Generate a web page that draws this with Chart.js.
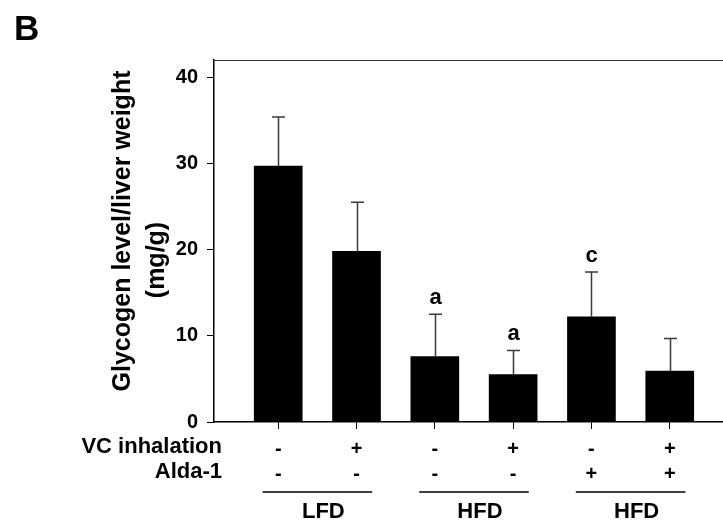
<!DOCTYPE html>
<html>
<head>
<meta charset="utf-8">
<script src="https://cdn.jsdelivr.net/npm/chart.js@4.4.0/dist/chart.umd.min.js"></script>
<style>
  html, body { margin: 0; padding: 0; background: #fff; }
  #wrap { width: 723px; height: 531px; }
</style>
</head>
<body>
<div id="wrap"><canvas id="chart" width="723" height="531"></canvas></div>
<script>
// groups in plotting order
const categories = ['LFD', 'LFD + VC', 'HFD', 'HFD + VC', 'HFD + Alda-1', 'HFD + VC + Alda-1'];
const glycogen = [29.7, 19.8, 7.6, 5.5, 12.2, 5.9];
const glycogenErr = [5.7, 5.7, 4.9, 2.8, 5.2, 3.8];
const sigLetters = ['', '', 'a', 'a', 'c', ''];
const vcInhalation = ['-', '+', '-', '+', '-', '+'];
const alda1 = ['-', '-', '-', '-', '+', '+'];
const groupLabels = ['LFD', 'HFD', 'HFD'];
const groupFirst = [0, 2, 4];
const yTicks = [0, 10, 20, 30, 40];

const FONT = "'Liberation Sans', Arial, Helvetica, sans-serif";

const overlay = {
    id: 'overlay',
    afterDatasetsDraw(chart) {
        const { ctx, chartArea, scales } = chart;
        const x = scales.x, y = scales.y;
        ctx.save();

        // top frame line
        ctx.strokeStyle = '#333';
        ctx.lineWidth = 1;
        ctx.beginPath();
        ctx.moveTo(chartArea.left, chartArea.top + 0.5);
        ctx.lineTo(chartArea.right, chartArea.top + 0.5);
        ctx.stroke();

        // upper error bars + letters
        ctx.strokeStyle = '#3a3a3a';
        ctx.lineWidth = 1.5;
        ctx.fillStyle = '#000';
        ctx.font = 'bold 22px ' + FONT;
        ctx.textAlign = 'center';
        ctx.textBaseline = 'alphabetic';
        glycogen.forEach((v, i) => {
            const px = Math.round(x.getPixelForValue(i)) + 0.5;
            const y0 = y.getPixelForValue(v);
            const y1 = y.getPixelForValue(v + glycogenErr[i]);
            ctx.beginPath();
            ctx.moveTo(px, y0);
            ctx.lineTo(px, y1);
            ctx.moveTo(px - 6.5, y1);
            ctx.lineTo(px + 6.5, y1);
            ctx.stroke();
            if (sigLetters[i]) ctx.fillText(sigLetters[i], px, y1 - 10);
        });

        // row names left of the +/- table
        ctx.font = 'bold 22px ' + FONT;
        ctx.textAlign = 'right';
        ctx.textBaseline = 'middle';
        ctx.fillText('VC inhalation', 222, chartArea.bottom + 25);
        ctx.fillText('Alda-1', 222, chartArea.bottom + 50);

        // diet group underlines and names
        ctx.strokeStyle = '#000';
        ctx.lineWidth = 1.5;
        ctx.textAlign = 'center';
        groupLabels.forEach((g, k) => {
            const a = x.getPixelForValue(groupFirst[k] - 0.2);
            const b = x.getPixelForValue(groupFirst[k] + 1.2);
            const ly = chartArea.bottom + 70;
            ctx.beginPath();
            ctx.moveTo(a, ly);
            ctx.lineTo(b, ly);
            ctx.stroke();
            ctx.fillText(g, (a + b) / 2 + 6, chartArea.bottom + 90);
        });

        // y axis title, two rotated lines
        ctx.font = 'bold 25px ' + FONT;
        ctx.textBaseline = 'middle';
        ctx.save();
        ctx.translate(123, 231);
        ctx.rotate(-Math.PI / 2);
        ctx.fillText('Glycogen level/liver weight', 0, 0);
        ctx.restore();
        ctx.save();
        ctx.translate(157, 260);
        ctx.rotate(-Math.PI / 2);
        ctx.fillText('(mg/g)', 0, 0);
        ctx.restore();

        // panel letter
        ctx.font = 'bold 35px ' + FONT;
        ctx.textAlign = 'left';
        ctx.textBaseline = 'alphabetic';
        ctx.fillText('B', 14, 40);

        ctx.restore();
    }
};

new Chart(document.getElementById('chart'), {
    type: 'bar',
    data: {
        datasets: [{
            label: 'Glycogen',
            data: glycogen.map((v, i) => ({ x: i, y: v })),
            backgroundColor: '#000',
            borderWidth: 0,
            barThickness: 48
        }]
    },
    options: {
        responsive: false,
        animation: false,
        layout: { padding: { top: 60, left: 0, right: 0, bottom: 0 } },
        plugins: { legend: { display: false }, tooltip: { enabled: false } },
        scales: {
            x: {
                type: 'linear',
                min: -0.82,
                max: 5.68,
                offset: false,
                afterBuildTicks: s => { s.ticks = categories.map((c, i) => ({ value: i })); },
                afterFit: s => { s.height = 109; },
                grid: { offset: false, drawOnChartArea: false, tickLength: 7, color: '#000', lineWidth: 1 },
                border: { color: '#000', width: 1.5 },
                ticks: {
                    autoSkip: false,
                    maxRotation: 0,
                    padding: 8,
                    color: '#000',
                    font: { family: FONT, size: 20, weight: 'bold', lineHeight: 1.25 },
                    callback: (v, i) => [vcInhalation[i], alda1[i]]
                }
            },
            y: {
                min: 0,
                max: 42,
                afterBuildTicks: s => { s.ticks = yTicks.map(v => ({ value: v })); },
                afterFit: s => { s.width = 214; },
                grid: { drawOnChartArea: false, tickLength: 7, color: '#000', lineWidth: 1 },
                border: { color: '#000', width: 1.5 },
                ticks: {
                    padding: 9,
                    color: '#000',
                    font: { family: FONT, size: 20, weight: 'bold' }
                }
            }
        }
    },
    plugins: [overlay]
});
</script>
</body>
</html>
